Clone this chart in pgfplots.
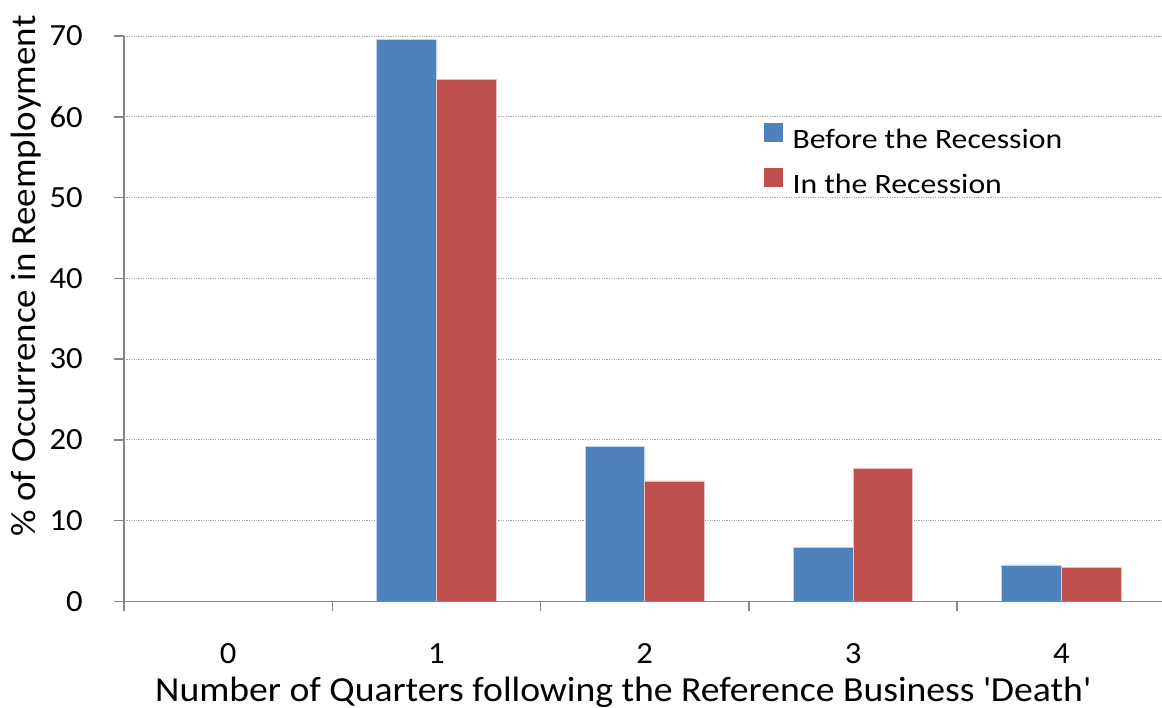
\documentclass[border=0pt]{standalone}
\usepackage{pgfplots}
\pgfplotsset{compat=1.18}
\usepackage{fontspec}
\setmainfont{Carlito}
\newfontfamily\tickfont{Carlito}[FakeStretch=1.06]
\newfontfamily\xlabfont{Carlito}[FakeStretch=1.07]
\newfontfamily\ylabfont{Carlito}[FakeStretch=1.052]
\newfontfamily\legfont{Carlito}[FakeStretch=1.134]

\definecolor{barblue}{HTML}{4F81BD}
\definecolor{barred}{HTML}{C0504D}
\definecolor{axisgray}{HTML}{868686}
\definecolor{gridgray}{HTML}{A6A6A6}

\begin{document}
\begin{tikzpicture}
\begin{axis}[
  at={(0,0)}, anchor=south west,
  scale only axis, width=520.75pt, height=282.65pt,
  xmin=-0.5, xmax=4.5, ymin=0, ymax=70,
  axis x line*=bottom, axis y line*=left,
  axis line style={-, draw=axisgray, line width=0.75pt},
  tick pos=left, tick align=outside,
  major tick length=5pt,
  tick style={draw=axisgray, line width=0.75pt},
  xtick={-0.5,0.5,1.5,2.5,3.5}, xticklabels={},
  extra x ticks={0,1,2,3,4}, extra x tick labels={0,1,2,3,4},
  extra x tick style={major tick length=0pt},
  ytick={0,10,...,70},
  ymajorgrids,
  grid style={draw=gridgray, line width=0.5pt, dash pattern=on 0.6pt off 0.6pt},
  /pgf/number format/assume math mode=true,
  tick label style={font=\tickfont\fontsize{15.4}{18}\selectfont, text=black},
  xticklabel style={anchor=base, yshift=-30.85pt, inner sep=0pt},
  yticklabel style={anchor=east, xshift=-15.5pt, inner sep=0pt},
  xlabel={Number of Quarters following the Reference Business \textquotesingle Death\textquotesingle},
  xlabel style={at={(axis description cs:0.4791,-0.1764)}, anchor=base,
    font=\xlabfont\fontsize{17.6}{20}\selectfont, inner sep=0pt},
  ylabel={\% of Occurrence in Reemployment},
  ylabel style={at={(axis description cs:-0.0850,0.5755)}, anchor=base,
    font=\ylabfont\fontsize{17.6}{20}\selectfont, inner sep=0pt},
  legend style={at={(axis description cs:0.6145,0.8455)}, anchor=north west,
    draw=none, fill=none, inner sep=0pt, outer sep=0pt,
    row sep=7pt, column sep=5pt,
    font=\legfont\fontsize{14}{16}\selectfont,
    nodes={inner sep=0pt, text height=10pt, text depth=3pt}},
  legend cell align=left,
]
\addplot[ybar, bar width=0.286, bar shift=-0.143,
  fill=barblue, draw=barblue!35!white, line width=0.4pt,
  legend image code/.code={\fill[barblue] (0pt,0pt) rectangle (8.85pt,8.85pt);}]
  coordinates {(0,0) (1,69.6) (2,19.2) (3,6.7) (4,4.5)};
\addlegendentry{Before the Recession}
\addplot[ybar, bar width=0.286, bar shift=0.143,
  fill=barred, draw=barred!35!white, line width=0.4pt,
  legend image code/.code={\fill[barred] (0pt,0pt) rectangle (8.85pt,8.85pt);}]
  coordinates {(0,0) (1,64.6) (2,14.9) (3,16.4) (4,4.2)};
\addlegendentry{In the Recession}
% horizontal axis line redrawn over the bar bases
\draw[axisgray, line width=0.75pt] (axis cs:-0.5,0) -- (axis cs:4.5,0);
\end{axis}
\pgfresetboundingbox
\path[use as bounding box] (-62pt,-52.85pt) rectangle (519pt,300.65pt);
\end{tikzpicture}
\end{document}
